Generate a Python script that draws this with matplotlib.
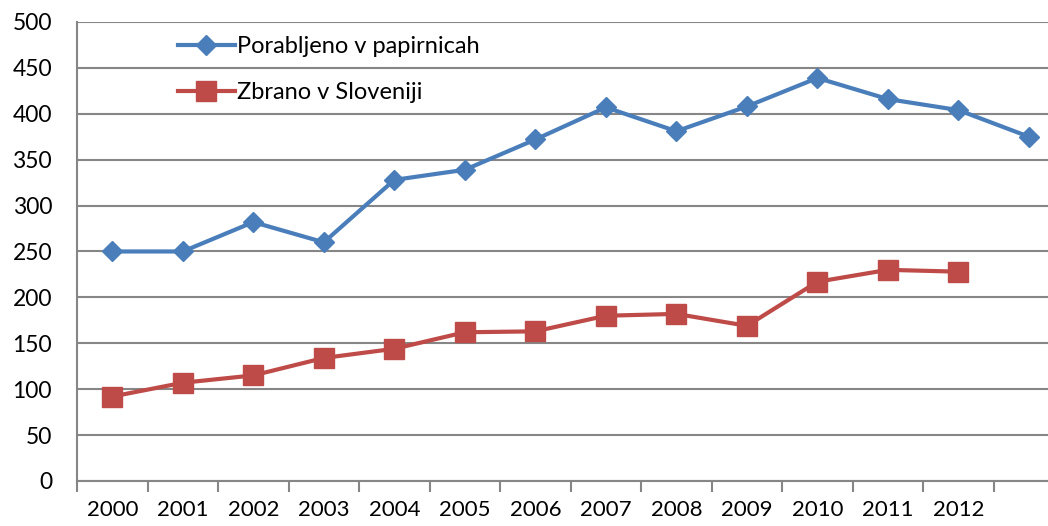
import matplotlib.pyplot as plt
from matplotlib.ticker import FixedLocator

plt.rcParams['font.family'] = ['Lato', 'DejaVu Sans']

# podatki
leta = ['2000', '2001', '2002', '2003', '2004', '2005', '2006',
        '2007', '2008', '2009', '2010', '2011', '2012', '']
porabljeno = [250, 250, 282, 260, 328, 339, 372, 407, 381, 408, 439, 416, 404, 375]
zbrano = [92, 107, 115, 134, 144, 162, 163, 180, 182, 169, 217, 230, 228]

modra = '#4A7EBB'
rdeca = '#BE4B48'
siva = '#868686'

fig = plt.figure(figsize=(10.48, 5.26), dpi=100)
ax = fig.add_axes([0.0735, 0.0856, 0.9265, 0.8726])

x1 = list(range(len(porabljeno)))
x2 = list(range(len(zbrano)))
ax.plot(x1, porabljeno, color=modra, lw=3, marker='D', ms=10,
        label='Porabljeno v papirnicah', zorder=3)
ax.plot(x2, zbrano, color=rdeca, lw=3, marker='s', ms=14,
        label='Zbrano v Sloveniji', zorder=3)

ax.set_ylim(0, 500)
ax.set_yticks(range(0, 501, 50))
ax.set_xlim(-0.5, 13.27)
ax.yaxis.grid(True, color=siva, lw=1.5)
ax.set_axisbelow(True)

ax.xaxis.set_major_locator(FixedLocator([i - 0.5 for i in range(len(leta) + 1)]))
ax.xaxis.set_minor_locator(FixedLocator(x1))
ax.set_xticklabels([])
ax.set_xticklabels(leta, minor=True)
ax.tick_params(axis='x', which='major', length=8, width=1.5, color=siva, direction='out')
ax.tick_params(axis='x', which='minor', length=0, labelsize=16, pad=14)
ax.tick_params(axis='y', length=0, labelsize=16.5, pad=18)

for s in ['top', 'right']:
    ax.spines[s].set_visible(False)
ax.spines['left'].set_color(siva)
ax.spines['bottom'].set_color(siva)
ax.spines['left'].set_linewidth(1.5)
ax.spines['bottom'].set_linewidth(1.5)

ax.legend(loc='upper left', bbox_to_anchor=(0.082, 1.015), frameon=False,
          fontsize=17, labelspacing=1.05, handlelength=2.4, handletextpad=0.1)

fig.savefig('out.png', dpi=100)
